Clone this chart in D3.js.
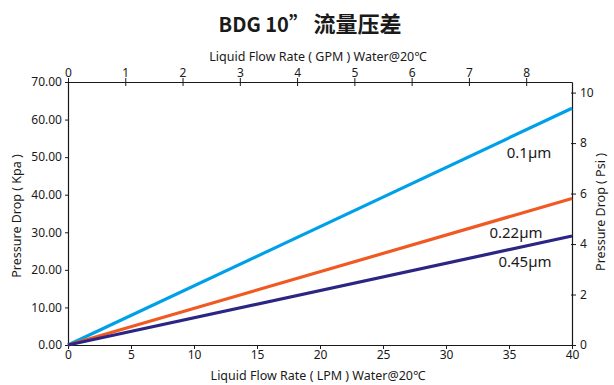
<!DOCTYPE html>
<html><head><meta charset="utf-8">
<script src="https://cdn.jsdelivr.net/npm/d3@7"></script>
<style>
body{margin:0;background:#fff;}
svg text{font-family:"Noto Sans","Noto Sans CJK SC",sans-serif;fill:#1a1a1a;}
</style></head>
<body><svg id="c" width="614" height="385"></svg>
<script>
const flowLPM = [0, 40];
const series = [
  {name:"0.1µm",  values:[0, 63], color:"#00a0e9"},
  {name:"0.22µm", values:[0, 39], color:"#f05a22"},
  {name:"0.45µm", values:[0, 29], color:"#2b2683"}
];
const kpaTicks = [0,10,20,30,40,50,60,70];
const psiTicks = [0,2,4,6,8,10];
const lpmTicks = [0,5,10,15,20,25,30,35,40];
const gpmTicks = [0,1,2,3,4,5,6,7,8];

const svg = d3.select("#c");
const L=68, R=572, T=82, B=345;
const x = d3.scaleLinear().domain([0,40]).range([L,R]);
const xg = d3.scaleLinear().domain([0,8.8]).range([L,R]);
const y = d3.scaleLinear().domain([0,70]).range([B,T]);
const yp = d3.scaleLinear().domain([0,10.42]).range([B,T]);

const title = svg.append("text").attr("x",310).attr("y",32).attr("text-anchor","middle")
  .style("font-weight","bold").style("font-family","'Noto Sans CJK SC',sans-serif");
title.append("tspan").style("font-size","20px").text("BDG 10”  ");
title.append("tspan").style("font-size","22px").text("流量压差");

function style(g){
  g.selectAll("path").attr("stroke","#1a1a1a").attr("stroke-width",1.2);
  g.selectAll("line").attr("stroke","#1a1a1a");
  g.selectAll("text").style("font-size","12px").attr("fill","#1a1a1a");
}

const gb = svg.append("g").attr("transform",`translate(0,${B})`)
  .call(d3.axisBottom(x).tickValues(lpmTicks).tickSize(4).tickSizeOuter(0));
style(gb); gb.selectAll("text").attr("y",5).attr("dy","0.71em");
const gt = svg.append("g").attr("transform",`translate(0,${T})`)
  .call(d3.axisTop(xg).tickValues(gpmTicks).tickSize(4).tickSizeOuter(0));
style(gt); gt.selectAll(".tick line").attr("y2",4).attr("y1",-4);
gt.selectAll("text").attr("y",-5);
const gl = svg.append("g").attr("transform",`translate(${L},0)`)
  .call(d3.axisLeft(y).tickValues(kpaTicks).tickFormat(d3.format(".2f")).tickSize(3).tickSizeOuter(0));
style(gl); gl.selectAll("text").attr("x",-6);
const gr = svg.append("g").attr("transform",`translate(${R},0)`)
  .call(d3.axisRight(yp).tickValues(psiTicks).tickSize(4).tickSizeOuter(0));
style(gr); gr.selectAll(".tick line").attr("x1",-1).attr("x2",4);
gr.selectAll("text").attr("x",8);

const line = d3.line().x((d,i)=>x(flowLPM[i])).y(d=>y(d));
series.forEach(s=>{
  svg.append("path").attr("d",line(s.values)).attr("fill","none")
    .attr("stroke",s.color).attr("stroke-width",3.2);
});

const labelPos = [[529,158],[516,238],[525,267]];
series.forEach((s,i)=>{
  svg.append("text").attr("x",labelPos[i][0]).attr("y",labelPos[i][1])
    .attr("text-anchor","middle").style("font-size","15px").text(s.name);
});

svg.append("text").attr("x",318).attr("y",61).attr("text-anchor","middle")
  .style("font-size","12.5px").text("Liquid Flow Rate ( GPM ) Water@20℃");
svg.append("text").attr("x",318).attr("y",380).attr("text-anchor","middle")
  .style("font-size","12.5px").text("Liquid Flow Rate ( LPM ) Water@20℃");
svg.append("text").attr("transform","translate(21,216) rotate(-90)").attr("text-anchor","middle")
  .style("font-size","12.5px").text("Pressure Drop ( Kpa )");
svg.append("text").attr("transform","translate(605,212) rotate(-90)").attr("text-anchor","middle")
  .style("font-size","12.5px").text("Pressure Drop ( Psi )");
</script></body></html>
